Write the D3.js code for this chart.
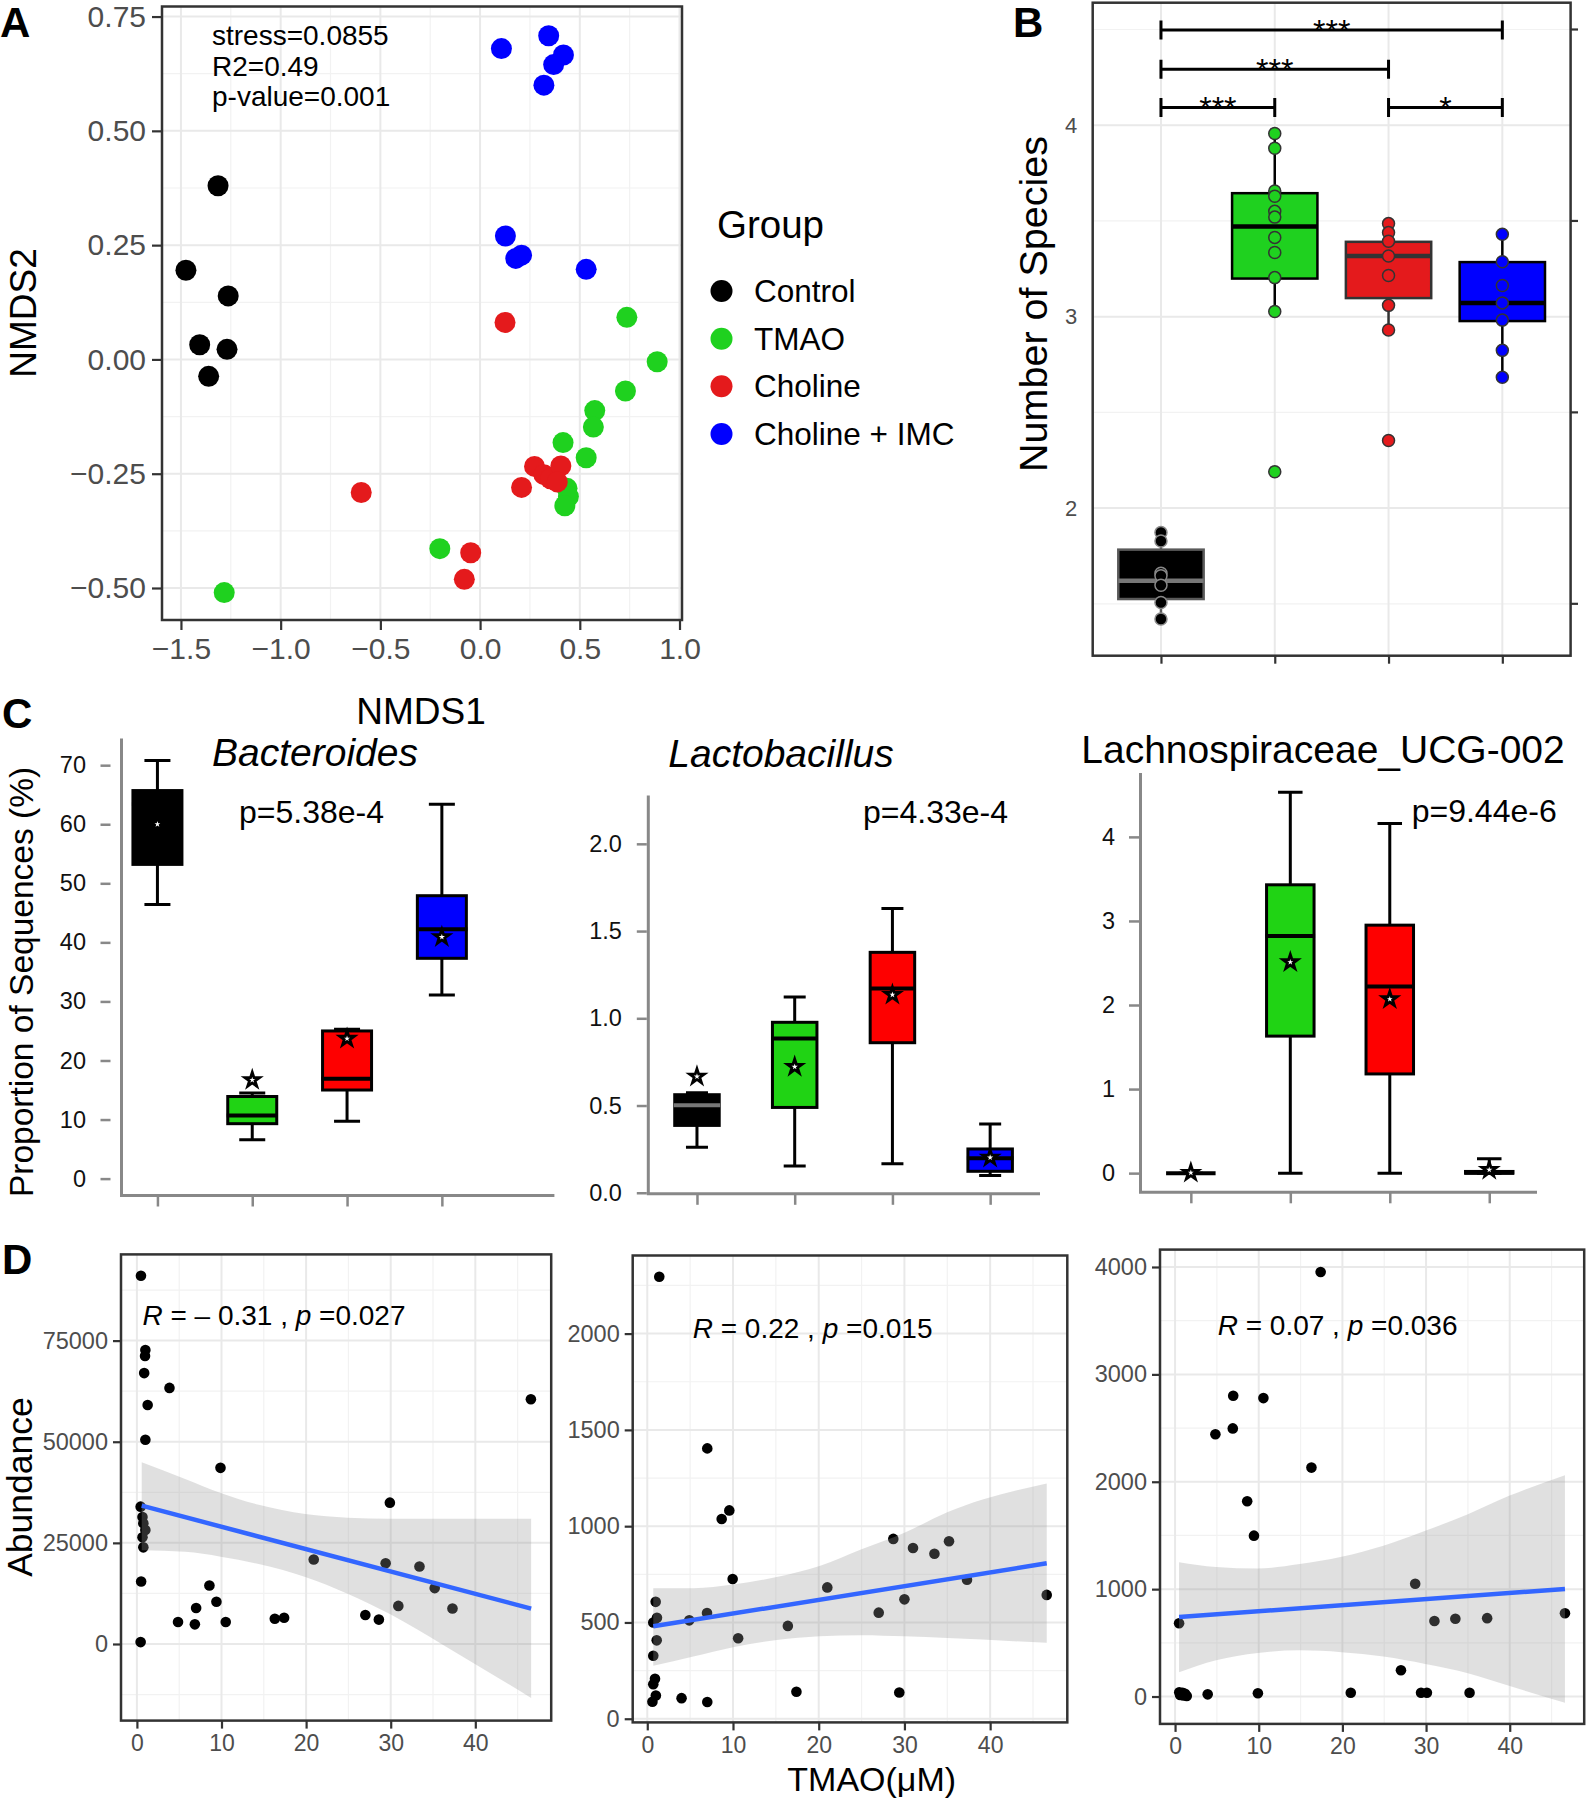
<!DOCTYPE html>
<html>
<head>
<meta charset="utf-8">
<script src="https://cdn.jsdelivr.net/npm/d3@7"></script>
<style>
  body { margin: 0; background: #fff; }
  svg text { font-family: "Liberation Sans", Arial, sans-serif; white-space: pre; }
</style>
</head>
<body>
<div id="fig"></div>
<script>
// ---- groups ----
var groups = ["Control", "TMAO", "Choline", "Choline + IMC"];
var groupColors = ["#000000", "#1fd11f", "#e41a1c", "#0000ff"];
var boxFillsC = ["#000000", "#20d314", "#fe0000", "#0000ff"];

// ---- A: NMDS, [NMDS1, NMDS2] per sample ----
var nmdsControl = [[-1.314, 0.380], [-1.475, 0.195], [-1.263, 0.139], [-1.406, 0.032], [-1.269, 0.022], [-1.361, -0.037]];
var nmdsTMAO = [[0.736, 0.092], [0.888, -0.005], [0.729, -0.069], [0.575, -0.112], [0.568, -0.148], [0.416, -0.182],
                [0.532, -0.215], [0.436, -0.282], [0.443, -0.300], [0.425, -0.320], [-0.202, -0.414], [-1.283, -0.510]];
var nmdsCholine = [[0.125, 0.081], [-0.596, -0.291], [0.273, -0.234], [0.320, -0.252], [0.353, -0.261], [0.405, -0.233],
                   [0.387, -0.268], [0.208, -0.280], [-0.047, -0.423], [-0.079, -0.481]];
var nmdsIMC = [[0.107, 0.680], [0.344, 0.708], [0.418, 0.666], [0.369, 0.645], [0.320, 0.600], [0.127, 0.270],
               [0.179, 0.221], [0.208, 0.228], [0.532, 0.197]];
var nmdsStats = ["stress=0.0855", "R2=0.49", "p-value=0.001"];

// ---- B: number of species ----
var speciesControl = [1.873, 1.828, 1.66, 1.647, 1.597, 1.507, 1.421];
var speciesTMAO = [3.957, 3.880, 3.656, 3.629, 3.550, 3.520, 3.414, 3.335, 3.204, 3.027, 2.19];
var speciesCholine = [3.486, 3.439, 3.394, 3.317, 3.215, 3.059, 2.93, 2.353];
var speciesIMC = [3.43, 3.287, 3.163, 3.072, 2.982, 2.824, 2.683];
var speciesLo = [1.421, 3.027, 2.93, 2.683];
var speciesQ1 = [1.525, 3.199, 3.097, 2.977];
var speciesMed = [1.62, 3.471, 3.317, 3.072];
var speciesQ3 = [1.783, 3.645, 3.391, 3.285];
var speciesHi = [1.873, 3.957, 3.486, 3.43];
// [from group, to group, height, label]
var speciesSig = [[1, 4, 4.497, "***"], [1, 3, 4.292, "***"], [1, 2, 4.093, "***"], [3, 4, 4.093, "*"]];

// ---- C: genus proportions, per group [lo, q1, median, q3, hi, mean] ----
var bacteroidesStats = [[46.4, 53.2, 63.4, 65.7, 70.8, 60.0], [6.6, 9.3, 10.7, 13.9, 14.5, 16.7],
                        [9.7, 15.0, 16.9, 25.0, 25.3, 23.7], [31.1, 37.3, 42.2, 47.9, 63.4, 40.9]];
var lactobacillusStats = [[0.261, 0.386, 0.502, 0.562, 0.573, 0.666], [0.153, 0.489, 0.884, 0.977, 1.122, 0.722],
                          [0.166, 0.860, 1.171, 1.378, 1.63, 1.135], [0.099, 0.123, 0.198, 0.251, 0.394, 0.202]];
var lachnoStats = [[0, 0, 0, 0, 0, 0.005], [0, 1.63, 2.82, 3.43, 4.53, 2.51],
                   [0, 1.18, 2.22, 2.95, 4.16, 2.07], [0, 0, 0.005, 0.02, 0.17, 0.04]];
var genusNames = ["Bacteroides", "Lactobacillus", "Lachnospiraceae_UCG-002"];
var genusP = ["p=5.38e-4", "p=4.33e-4", "p=9.44e-6"];
var bactTicks = [0, 10, 20, 30, 40, 50, 60, 70];
var lactoTicks = [0, 0.5, 1.0, 1.5, 2.0];
var lachnoTicks = [0, 1, 2, 3, 4];

// ---- D: abundance vs TMAO ----
var d1Tmao = [0.48, 1.0, 0.96, 0.86, 3.85, 1.27, 1.0, 9.88, 0.44, 0.66, 0.76, 1.0, 0.66, 0.76, 0.5, 0.44,
              29.9, 46.57, 20.9, 29.4, 33.4, 35.2, 8.57, 9.4, 7.0, 6.85, 4.86, 10.5, 16.3, 17.4, 27.0, 28.6, 30.9, 37.3];
var d1Abund = [91030, 72660, 71200, 66970, 63310, 59100, 50500, 43550, 33950, 31380, 29820, 28190, 26360, 23890, 15460, 470,
               34940, 60490, 20870, 19960, 19140, 13820, 14470, 10440, 8900, 4850, 5420, 5440, 6230, 6500, 7150, 6030, 9420, 8780];
var d1Fit = [[0.57, 34200], [46.6, 8750]];
var d1BandX = [0.57, 5.7, 9.9, 14.4, 19.9, 24.9, 29.9, 36.3, 46.6];
var d1BandHi = [44930, 40800, 37340, 34400, 32120, 31210, 30940, 30940, 30940];
var d1BandLo = [23150, 22780, 21590, 19760, 16570, 12440, 7420, -350, -13350];

var d2Tmao = [1.4, 7.0, 9.57, 8.68, 9.96, 28.7, 31.0, 33.5, 35.2, 37.3, 46.6, 21.0, 30.0, 27.0, 16.4, 10.6,
              6.97, 4.9, 0.98, 1.13, 0.7, 1.1, 0.7, 0.9, 0.7, 1.0, 0.6, 4.0, 7.0, 17.4, 29.4];
var d2Abund = [2295, 1404, 1082, 1037, 726, 934, 887, 857, 922, 722, 643, 682, 620, 551, 482, 418,
               549, 511, 607, 524, 500, 407, 327, 208, 179, 121, 88, 107, 87, 140, 136];
var d2Fit = [[0.7, 480], [46.6, 807]];
var d2BandX = [0.7, 5.37, 10, 15.1, 20.1, 25, 30, 35, 46.6];
var d2BandHi = [678, 678, 697, 736, 793, 880, 966, 1072, 1222];
var d2BandLo = [275, 323, 371, 409, 428, 434, 428, 419, 394];

var d3Tmao = [17.4, 6.95, 10.56, 6.9, 4.82, 16.3, 8.62, 9.43, 28.7, 0.48, 31.0, 33.5, 37.3, 46.6, 27.0,
              0.5, 0.7, 0.9, 1.0, 1.2, 1.4, 0.6, 0.8, 3.9, 9.9, 21.0, 29.4, 30.1, 35.2];
var d3Abund = [3954, 2801, 2779, 2497, 2442, 2132, 1818, 1498, 1050, 682, 703, 724, 730, 775, 245,
               40, 20, 35, 10, 25, 5, 15, 30, 20, 30, 35, 35, 35, 35];
var d3Fit = [[0.48, 740], [46.6, 1002]];
var d3BandX = [0.48, 4.9, 9.9, 14.9, 19.9, 24.9, 29.9, 35, 40, 46.6];
var d3BandHi = [1250, 1206, 1192, 1233, 1302, 1405, 1543, 1698, 1871, 2060];
var d3BandLo = [227, 338, 406, 430, 413, 372, 303, 217, 97, -59];

var dR = [" = \u2013 0.31 , ", " = 0.22 , ", " = 0.07 , "];
var dP = [" =0.027", " =0.015", " =0.036"];

// ================= drawing =================
var svg = d3.select("#fig").append("svg")
  .attr("width", 1586).attr("height", 1800)
  .style("background", "#fff");

function panelLetter(x, y, s) {
  svg.append("text").attr("x", x).attr("y", y)
    .attr("font-size", 42).attr("font-weight", "bold").text(s);
}

// light ggplot style grid + dark border
function ggGrid(g, x, y, xMaj, xMin, yMaj, yMin) {
  var x0 = x.range()[0], x1 = x.range()[1], y0 = y.range()[0], y1 = y.range()[1];
  g.selectAll(null).data(xMin).enter().append("line")
    .attr("x1", d => x(d)).attr("x2", d => x(d)).attr("y1", y0).attr("y2", y1)
    .attr("stroke", "#f2f2f2").attr("stroke-width", 1.2);
  g.selectAll(null).data(yMin).enter().append("line")
    .attr("y1", d => y(d)).attr("y2", d => y(d)).attr("x1", x0).attr("x2", x1)
    .attr("stroke", "#f2f2f2").attr("stroke-width", 1.2);
  g.selectAll(null).data(xMaj).enter().append("line")
    .attr("x1", d => x(d)).attr("x2", d => x(d)).attr("y1", y0).attr("y2", y1)
    .attr("stroke", "#e9e9e9").attr("stroke-width", 2);
  g.selectAll(null).data(yMaj).enter().append("line")
    .attr("y1", d => y(d)).attr("y2", d => y(d)).attr("x1", x0).attr("x2", x1)
    .attr("stroke", "#e9e9e9").attr("stroke-width", 2);
}
function ggBorder(g, x, y) {
  var x0 = x.range()[0], x1 = x.range()[1], y0 = y.range()[0], y1 = y.range()[1];
  g.append("rect").attr("x", x0).attr("y", y1).attr("width", x1 - x0).attr("height", y0 - y1)
    .attr("fill", "none").attr("stroke", "#333").attr("stroke-width", 2.5);
}
function styleAxis(ax, size, col) {
  ax.select(".domain").remove();
  ax.selectAll(".tick line").attr("stroke", "#333").attr("stroke-width", 2.2);
  ax.selectAll(".tick text").attr("font-size", size).attr("fill", col)
    .attr("font-family", "'Liberation Sans', Arial, sans-serif");
}

// ---------- A ----------
var gA = svg.append("g");
var xA = d3.scaleLinear().domain([-1.595, 1.0125]).range([162, 682]);
var yA = d3.scaleLinear().domain([-0.57, 0.772]).range([620, 6.5]);
ggGrid(gA, xA, yA, [-1.5, -1, -0.5, 0, 0.5, 1], [-1.25, -0.75, -0.25, 0.25, 0.75],
       [-0.5, -0.25, 0, 0.25, 0.5, 0.75], [-0.375, -0.125, 0.125, 0.375, 0.625]);

var nmdsSets = [nmdsControl, nmdsTMAO, nmdsCholine, nmdsIMC];
nmdsSets.forEach(function(pts, i) {
  gA.selectAll(null).data(pts).enter().append("circle")
    .attr("cx", d => xA(d[0])).attr("cy", d => yA(d[1])).attr("r", 10.5)
    .attr("fill", groupColors[i]);
});
ggBorder(gA, xA, yA);

var axA = gA.append("g").attr("transform", "translate(0,620)")
  .call(d3.axisBottom(xA).tickValues([-1.5, -1, -0.5, 0, 0.5, 1]).tickFormat(d3.format(".1f")).tickSize(10).tickPadding(8));
styleAxis(axA, 30, "#4d4d4d");
var ayA = gA.append("g").attr("transform", "translate(162,0)")
  .call(d3.axisLeft(yA).tickValues([-0.5, -0.25, 0, 0.25, 0.5, 0.75]).tickFormat(d3.format(".2f")).tickSize(10).tickPadding(6));
styleAxis(ayA, 30, "#4d4d4d");

gA.selectAll(null).data(nmdsStats).enter().append("text")
  .attr("x", 212).attr("y", (d, i) => 45 + i * 30.5)
  .attr("font-size", 28).text(d => d);

gA.append("text").attr("transform", "translate(36,313) rotate(-90)")
  .attr("text-anchor", "middle").attr("font-size", 37).text("NMDS2");
gA.append("text").attr("x", 421).attr("y", 724)
  .attr("text-anchor", "middle").attr("font-size", 37).text("NMDS1");
panelLetter(0, 37, "A");

// legend
var gL = svg.append("g");
gL.append("text").attr("x", 717).attr("y", 238).attr("font-size", 38.5).text("Group");
var legY = d3.scalePoint().domain(groups).range([291, 434]);
gL.selectAll(null).data(groups).enter().append("circle")
  .attr("cx", 721.5).attr("cy", d => legY(d)).attr("r", 11)
  .attr("fill", (d, i) => groupColors[i]);
gL.selectAll(null).data(groups).enter().append("text")
  .attr("x", 754).attr("y", d => legY(d) + 11).attr("font-size", 31.5).text(d => d);

// ---------- B ----------
var gB = svg.append("g");
var xB = d3.scaleLinear().domain([0.4, 4.6]).range([1092.7, 1570.6]);
var yB = d3.scaleLinear().domain([1.229, 4.64]).range([655.7, 2.7]);
ggGrid(gB, xB, yB, [1, 2, 3, 4], [], [2, 3, 4], [1.5, 2.5, 3.5, 4.5]);

var speciesSets = [speciesControl, speciesTMAO, speciesCholine, speciesIMC];
var boxLineB = ["#5a5a5a", "#000", "#333", "#000"];
var medLineB = ["#777", "#000", "#333", "#000"];
groups.forEach(function(gname, i) {
  var cx = xB(i + 1), hw = xB(i + 1.375) - xB(i + 1);
  gB.append("line").attr("x1", cx).attr("x2", cx).attr("y1", yB(speciesLo[i])).attr("y2", yB(speciesHi[i]))
    .attr("stroke", boxLineB[i]).attr("stroke-width", 2.5);
  gB.append("rect").attr("x", cx - hw).attr("width", 2 * hw)
    .attr("y", yB(speciesQ3[i])).attr("height", yB(speciesQ1[i]) - yB(speciesQ3[i]))
    .attr("fill", groupColors[i]).attr("stroke", boxLineB[i]).attr("stroke-width", 2.5);
  gB.append("line").attr("x1", cx - hw).attr("x2", cx + hw).attr("y1", yB(speciesMed[i])).attr("y2", yB(speciesMed[i]))
    .attr("stroke", medLineB[i]).attr("stroke-width", 4.5);
  gB.selectAll(null).data(speciesSets[i]).enter().append("circle")
    .attr("cx", cx).attr("cy", d => yB(d)).attr("r", 6)
    .attr("fill", groupColors[i]).attr("stroke", i === 0 ? "#888" : "#333").attr("stroke-width", 1.5);
});
ggBorder(gB, xB, yB);

var axB = gB.append("g").attr("transform", "translate(0,655.7)")
  .call(d3.axisBottom(xB).tickValues([1, 2, 3, 4]).tickFormat("").tickSize(8));
styleAxis(axB, 22, "#4d4d4d");
var ayB = gB.append("g").attr("transform", "translate(1092.7,0)")
  .call(d3.axisLeft(yB).tickValues([2, 3, 4]).tickFormat(d3.format("d")).tickSize(0).tickPadding(15.5));
styleAxis(ayB, 22, "#4d4d4d");
// stray right-side ticks
gB.selectAll(null).data([1.5, 2.5, 3.5, 4.5]).enter().append("line")
  .attr("x1", 1570.6).attr("x2", 1578).attr("y1", d => yB(d)).attr("y2", d => yB(d))
  .attr("stroke", "#333").attr("stroke-width", 2.2);

// significance brackets
speciesSig.forEach(function(s) {
  var xa = xB(s[0]), xb = xB(s[1]), yy = yB(s[2]);
  gB.append("path")
    .attr("d", "M" + xa + "," + (yy - 9.5) + "V" + (yy + 9.5) + "M" + xa + "," + yy + "H" + xb +
               "M" + xb + "," + (yy - 9.5) + "V" + (yy + 9.5))
    .attr("stroke", "#000").attr("stroke-width", 3).attr("fill", "none");
  gB.append("text").attr("x", (xa + xb) / 2).attr("y", yy + 12)
    .attr("text-anchor", "middle").attr("font-size", 32).text(s[3]);
});

gB.append("text").attr("transform", "translate(1047,304) rotate(-90)")
  .attr("text-anchor", "middle").attr("font-size", 39.5).text("Number of Species");
panelLetter(1013, 37, "B");

// ---------- C ----------
var cPanels = [
  { stats: bacteroidesStats, ticks: bactTicks, fmt: d3.format("d"), italic: true,
    x: [0.621, 5.187, 121.5, 554.4], y: [-2.86, 74.5, 1195.5, 738.6], tickGap: 11, pad: 14.5,
    boxW: 49, capW: 26, title: [315, 766], p: [239, 823] },
  { stats: lactobacillusStats, ticks: lactoTicks, fmt: d3.format(".1f"), italic: true,
    x: [0.502, 4.51, 648.3, 1040], y: [-0.006, 2.277, 1193.8, 795.5], tickGap: 1.5, pad: 15,
    boxW: 44.5, capW: 22, title: [781, 767], p: [863, 823] },
  { stats: lachnoStats, ticks: lachnoTicks, fmt: d3.format("d"), italic: false,
    x: [0.494, 4.48, 1140.5, 1537], y: [-0.228, 4.76, 1192.3, 773], tickGap: 1.5, pad: 14,
    boxW: 47.5, capW: 24.5, title: [1323, 763], p: [1411.7, 822] }
];
cPanels.forEach(function(c, k) {
  var g = svg.append("g");
  var x = d3.scaleLinear().domain([c.x[0], c.x[1]]).range([c.x[2], c.x[3]]);
  var y = d3.scaleLinear().domain([c.y[0], c.y[1]]).range([c.y[2], c.y[3]]);
  // axis lines
  g.append("path").attr("d", "M" + c.x[2] + "," + c.y[3] + "V" + c.y[2] + "H" + c.x[3])
    .attr("fill", "none").attr("stroke", "#888").attr("stroke-width", 3);
  var ay = g.append("g").attr("transform", "translate(" + (c.x[2] - c.tickGap) + ",0)")
    .call(d3.axisLeft(y).tickValues(c.ticks).tickFormat(c.fmt).tickSize(10).tickPadding(c.pad));
  styleAxis(ay, 23.5, "#111");
  ay.selectAll(".tick line").attr("stroke", "#888").attr("stroke-width", 2.5);
  var ax = g.append("g").attr("transform", "translate(0," + c.y[2] + ")")
    .call(d3.axisBottom(x).tickValues([1, 2, 3, 4]).tickFormat("").tickSize(11));
  styleAxis(ax, 22, "#111");
  ax.selectAll(".tick line").attr("stroke", "#888").attr("stroke-width", 2.5);

  c.stats.forEach(function(s, i) {
    var cx = x(i + 1), hw = c.boxW / 2, cw = c.capW / 2;
    g.append("path")
      .attr("d", "M" + cx + "," + y(s[0]) + "V" + y(s[1]) + "M" + cx + "," + y(s[3]) + "V" + y(s[4]) +
                 "M" + (cx - cw) + "," + y(s[0]) + "H" + (cx + cw) +
                 "M" + (cx - cw) + "," + y(s[4]) + "H" + (cx + cw))
      .attr("stroke", "#000").attr("stroke-width", 3).attr("fill", "none");
    g.append("rect").attr("x", cx - hw).attr("width", 2 * hw)
      .attr("y", y(s[3])).attr("height", Math.max(0, y(s[1]) - y(s[3])))
      .attr("fill", boxFillsC[i]).attr("stroke", "#000").attr("stroke-width", 3);
    g.append("line").attr("x1", cx - hw - 1).attr("x2", cx + hw + 1).attr("y1", y(s[2])).attr("y2", y(s[2]))
      .attr("stroke", (i === 0 && k === 1) ? "#777" : "#000").attr("stroke-width", 4);
    g.append("path").attr("d", d3.symbol().type(d3.symbolStar).size(66)())
      .attr("transform", "translate(" + cx + "," + y(s[5]) + ")")
      .attr("fill", "#fff").attr("stroke", "#000").attr("stroke-width", 2.8);
  });

  g.append("text").attr("x", c.title[0]).attr("y", c.title[1])
    .attr("text-anchor", "middle").attr("font-size", 39)
    .attr("font-style", c.italic ? "italic" : "normal").text(genusNames[k]);
  g.append("text").attr("x", c.p[0]).attr("y", c.p[1]).attr("font-size", 32).text(genusP[k]);
});
svg.append("text").attr("transform", "translate(33,982) rotate(-90)")
  .attr("text-anchor", "middle").attr("font-size", 33.5).text("Proportion of Sequences (%)");
panelLetter(2, 728, "C");

// ---------- D ----------
var dPanels = [
  { tmao: d1Tmao, ab: d1Abund, fit: d1Fit, bx: d1BandX, bh: d1BandHi, bl: d1BandLo,
    x: [-1.88, 48.97, 121, 551.2], y: [-18940, 96316, 1720.6, 1254.4],
    yMaj: [0, 25000, 50000, 75000], yMin: [-12500, 12500, 37500, 62500, 87500], lab: [142.4, 1325.4] },
  { tmao: d2Tmao, ab: d2Abund, fit: d2Fit, bx: d2BandX, bh: d2BandHi, bl: d2BandLo,
    x: [-1.7, 49.0, 632.7, 1067.3], y: [-19, 2405.6, 1722.4, 1255.5],
    yMaj: [0, 500, 1000, 1500, 2000], yMin: [250, 750, 1250, 1750, 2250], lab: [692.7, 1337.6] },
  { tmao: d3Tmao, ab: d3Abund, fit: d3Fit, bx: d3BandX, bh: d3BandHi, bl: d3BandLo,
    x: [-1.8, 48.9, 1160, 1584.2], y: [-255, 4162, 1723.9, 1249.6],
    yMaj: [0, 1000, 2000, 3000, 4000], yMin: [500, 1500, 2500, 3500], lab: [1217.7, 1335.4] }
];
dPanels.forEach(function(c, k) {
  var g = svg.append("g");
  var x = d3.scaleLinear().domain([c.x[0], c.x[1]]).range([c.x[2], c.x[3]]);
  var y = d3.scaleLinear().domain([c.y[0], c.y[1]]).range([c.y[2], c.y[3]]);
  ggGrid(g, x, y, [0, 10, 20, 30, 40], [5, 15, 25, 35, 45], c.yMaj, c.yMin);

  g.selectAll(null).data(c.tmao).enter().append("circle")
    .attr("cx", d => x(d)).attr("cy", (d, i) => y(c.ab[i])).attr("r", 5.3).attr("fill", "#000");

  var band = d3.area().curve(d3.curveMonotoneX)
    .x((d, i) => x(d)).y0((d, i) => y(c.bl[i])).y1((d, i) => y(c.bh[i]));
  g.append("path").attr("d", band(c.bx)).attr("fill", "#999").attr("fill-opacity", 0.3);
  g.append("path").attr("d", d3.line().x(d => x(d[0])).y(d => y(d[1]))(c.fit))
    .attr("stroke", "#3366ff").attr("stroke-width", 4.5).attr("fill", "none");
  ggBorder(g, x, y);

  var ax = g.append("g").attr("transform", "translate(0," + c.y[2] + ")")
    .call(d3.axisBottom(x).tickValues([0, 10, 20, 30, 40]).tickFormat(d3.format("d")).tickSize(8).tickPadding(6));
  styleAxis(ax, 23, "#4d4d4d");
  var ay = g.append("g").attr("transform", "translate(" + c.x[2] + ",0)")
    .call(d3.axisLeft(y).tickValues(c.yMaj).tickFormat(d3.format("d")).tickSize(8).tickPadding(5));
  styleAxis(ay, 23.5, "#4d4d4d");

  var t = g.append("text").attr("x", c.lab[0]).attr("y", c.lab[1]).attr("font-size", 28);
  t.append("tspan").attr("font-style", "italic").text("R");
  t.append("tspan").text(dR[k]);
  t.append("tspan").attr("font-style", "italic").text("p");
  t.append("tspan").text(dP[k]);
});
svg.append("text").attr("transform", "translate(32,1487) rotate(-90)")
  .attr("text-anchor", "middle").attr("font-size", 35.5).text("Abundance");
svg.append("text").attr("x", 871.7).attr("y", 1791)
  .attr("text-anchor", "middle").attr("font-size", 34).text("TMAO(\u03bcM)");
panelLetter(2, 1274, "D");
</script>
</body>
</html>
